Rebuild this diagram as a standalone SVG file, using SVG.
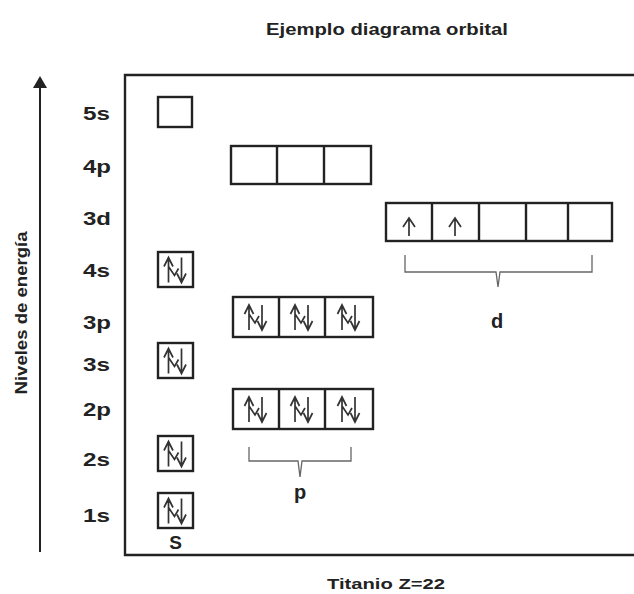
<svg xmlns="http://www.w3.org/2000/svg" width="634" height="594" viewBox="0 0 634 594">
<style>
  .t{font-family:"Liberation Sans",Arial,sans-serif;font-weight:bold;fill:#222}
  .lv{font-size:18px}
  .box{fill:#fff;stroke:#222;stroke-width:2.4}
  .div{stroke:#222;stroke-width:2.4}
  .ar{fill:none;stroke:#333;stroke-width:1.7;stroke-linejoin:miter;stroke-linecap:butt}
  .br{fill:none;stroke:#666;stroke-width:1.3}
</style>
<defs>
  <g id="pair">
    <path class="ar" d="M-7,13 V-11 M-11.5,-3 L-7,-12 L-2.5,-3 M-7,-3 L-1,6 L3,-1 M6,-12 V12 M1.5,4 L6,13 L10.5,4"/>
  </g>
  <g id="up">
    <path class="ar" d="M0,9 V-8 M-6,0 L0,-9 L6,0"/>
  </g>
</defs>
<rect width="634" height="594" fill="#fff"/>
<text class="t" x="387" y="35" font-size="16" text-anchor="middle" textLength="242" lengthAdjust="spacingAndGlyphs">Ejemplo diagrama orbital</text>
<g id="frame"><path d="M640,75 H125 V555 H640" fill="none" stroke="#222" stroke-width="2.4"/></g>
<g id="axis">
  <line x1="40" y1="84" x2="40" y2="552" stroke="#222" stroke-width="2"/>
  <path d="M40,76 L47,88 L33,88 Z" fill="#222"/>
  <text class="t" font-size="16" transform="translate(27,313) rotate(-90)" text-anchor="middle" textLength="163" lengthAdjust="spacingAndGlyphs">Niveles de energía</text>
</g>
<g id="labels">
  <text class="t lv" x="83" y="120" textLength="27" lengthAdjust="spacingAndGlyphs">5s</text>
  <text class="t lv" x="83" y="173" textLength="28" lengthAdjust="spacingAndGlyphs">4p</text>
  <text class="t lv" x="83" y="225" textLength="28" lengthAdjust="spacingAndGlyphs">3d</text>
  <text class="t lv" x="83" y="277" textLength="27" lengthAdjust="spacingAndGlyphs">4s</text>
  <text class="t lv" x="83" y="329" textLength="28" lengthAdjust="spacingAndGlyphs">3p</text>
  <text class="t lv" x="83" y="371" textLength="27" lengthAdjust="spacingAndGlyphs">3s</text>
  <text class="t lv" x="83" y="416" textLength="28" lengthAdjust="spacingAndGlyphs">2p</text>
  <text class="t lv" x="83" y="466" textLength="27" lengthAdjust="spacingAndGlyphs">2s</text>
  <text class="t lv" x="83" y="522" textLength="27" lengthAdjust="spacingAndGlyphs">1s</text>
</g>
<g id="o5s"><rect class="box" x="158" y="97" width="34" height="30"/></g>
<g id="o4p">
  <rect class="box" x="231" y="146" width="140" height="38"/>
  <path class="div" d="M277,146 V184 M324,146 V184"/>
</g>
<g id="o3d">
  <rect class="box" x="386" y="203" width="226" height="38"/>
  <path class="div" d="M432,203 V241 M479,203 V241 M526,203 V241 M568,203 V241"/>
  <use href="#up" x="409" y="227"/>
  <use href="#up" x="455" y="227"/>
</g>
<g id="o4s"><rect class="box" x="158" y="252" width="35" height="35"/><use href="#pair" x="175.5" y="269.5"/></g>
<g id="o3p">
  <rect class="box" x="233" y="297" width="140" height="40"/>
  <path class="div" d="M279,297 V337 M325,297 V337"/>
  <use href="#pair" x="256" y="317"/>
  <use href="#pair" x="302" y="317"/>
  <use href="#pair" x="349" y="317"/>
</g>
<g id="o3s"><rect class="box" x="158" y="343" width="35" height="35"/><use href="#pair" x="175.5" y="360.5"/></g>
<g id="o2p">
  <rect class="box" x="233" y="389" width="140" height="40"/>
  <path class="div" d="M279,389 V429 M325,389 V429"/>
  <use href="#pair" x="256" y="409"/>
  <use href="#pair" x="302" y="409"/>
  <use href="#pair" x="349" y="409"/>
</g>
<g id="o2s"><rect class="box" x="158" y="436" width="35" height="35"/><use href="#pair" x="175.5" y="453.5"/></g>
<g id="o1s"><rect class="box" x="158" y="493" width="35" height="35"/><use href="#pair" x="175.5" y="510.5"/></g>
<g id="connectors">
  <path class="br" d="M405,255 V272 H496 L498,287 L500,272 H592 V255"/>
  <path class="br" d="M249,447 V461 H298 L300,477 L302,461 H351 V447"/>
</g>
<text class="t" x="497" y="328" font-size="20" text-anchor="middle">d</text>
<text class="t" x="300" y="499" font-size="20" text-anchor="middle">p</text>
<text class="t" x="175.5" y="549" font-size="19" text-anchor="middle">S</text>
<text class="t" x="386" y="589" font-size="15" text-anchor="middle" textLength="118" lengthAdjust="spacingAndGlyphs">Titanio Z=22</text>
</svg>
